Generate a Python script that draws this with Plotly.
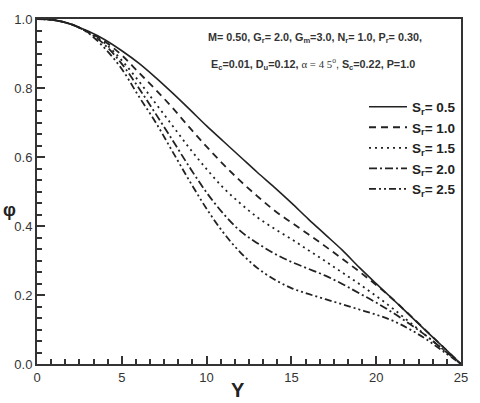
import plotly.graph_objects as go

Y = list(range(0, 26))

phi_sr05 = [1.0, 0.997, 0.985, 0.965, 0.94, 0.908, 0.872, 0.83, 0.785, 0.738, 0.69,
            0.645, 0.6, 0.555, 0.512, 0.467, 0.42, 0.375, 0.33, 0.28, 0.233,
            0.187, 0.14, 0.093, 0.047, 0.0]
phi_sr10 = [1.0, 0.997, 0.985, 0.963, 0.935, 0.895, 0.845, 0.795, 0.742, 0.685, 0.63,
            0.578, 0.53, 0.486, 0.445, 0.41, 0.376, 0.341, 0.305, 0.268, 0.229,
            0.187, 0.141, 0.094, 0.047, 0.0]
phi_sr15 = [1.0, 0.997, 0.985, 0.962, 0.93, 0.88, 0.82, 0.755, 0.69, 0.625, 0.565,
            0.51, 0.465, 0.425, 0.392, 0.362, 0.33, 0.298, 0.265, 0.232, 0.197,
            0.16, 0.12, 0.08, 0.04, 0.0]
phi_sr20 = [1.0, 0.997, 0.985, 0.962, 0.925, 0.87, 0.8, 0.725, 0.648, 0.57, 0.497,
            0.435, 0.385, 0.35, 0.32, 0.296, 0.276, 0.256, 0.232, 0.205, 0.178,
            0.148, 0.115, 0.08, 0.04, 0.0]
phi_sr25 = [1.0, 0.997, 0.985, 0.96, 0.915, 0.855, 0.776, 0.7, 0.615, 0.53, 0.45,
            0.38, 0.323, 0.278, 0.245, 0.22, 0.203, 0.188, 0.173, 0.158, 0.143,
            0.125, 0.1, 0.07, 0.035, 0.0]

series = [
    ("<b>S<sub>r</sub>= 0.5</b>", phi_sr05, "solid"),
    ("<b>S<sub>r</sub>= 1.0</b>", phi_sr10, "7px,5px"),
    ("<b>S<sub>r</sub>= 1.5</b>", phi_sr15, "2px,4px"),
    ("<b>S<sub>r</sub>= 2.0</b>", phi_sr20, "8px,3px,2px,3px"),
    ("<b>S<sub>r</sub>= 2.5</b>", phi_sr25, "7px,3px,2px,3px,2px,3px"),
]

fig = go.Figure()
for name, vals, dash in series:
    fig.add_trace(go.Scatter(
        x=Y, y=vals, mode="lines", name=name, line_shape="spline",
        line=dict(color="#222222", width=1.6 if dash == "solid" else 1.8, dash=dash),
    ))

FONT = "Liberation Sans, Arial, sans-serif"
fig.update_layout(
    width=480, height=403,
    margin=dict(l=37, r=15, t=13, b=39),
    plot_bgcolor="white",
    font=dict(family=FONT, color="#222222"),
    showlegend=True,
    legend=dict(x=1.0, xanchor="right", y=0.79, yanchor="top",
                bgcolor="rgba(0,0,0,0)", font=dict(size=13.5, family=FONT, color="#222222"),
                itemwidth=38, tracegroupgap=0),
    xaxis=dict(range=[0, 25], ticks="inside", ticklen=8, tickwidth=2, tickcolor="#333333",
               showline=True, linecolor="#333333", linewidth=2, mirror=True, showgrid=False, zeroline=False,
               tickfont=dict(size=13, family=FONT, color="#333"),
               minor=dict(ticks="inside", ticklen=5, tickwidth=1.5, tickcolor="#333333", dtick=5/6, tick0=0)),
    yaxis=dict(range=[0, 1], ticks="inside", ticklen=8, tickwidth=2, tickcolor="#333333", tickformat=".1f",
               showline=True, linecolor="#333333", linewidth=2, mirror=True, showgrid=False, zeroline=False,
               tickfont=dict(size=13, family=FONT, color="#333"),
               minor=dict(ticks="inside", ticklen=5, tickwidth=1.5, tickcolor="#333333", dtick=0.2/6, tick0=0)),
)

fig.add_annotation(text="<b>Y</b>", xref="paper", yref="paper", x=0.475, y=-0.074,
                   yanchor="middle", showarrow=False, font=dict(size=20, family=FONT, color="#222"))
fig.add_annotation(text="<b>φ</b>", xref="paper", yref="paper", x=-0.085, y=0.445,
                   xanchor="left", showarrow=False, font=dict(size=18, family=FONT, color="#222"))
fig.add_annotation(text="<b>M= 0.50, G<sub>r</sub>= 2.0, G<sub>m</sub>=3.0, N<sub>r</sub>= 1.0, P<sub>r</sub>= 0.30,</b>",
                   xref="paper", yref="paper", x=0.398, y=0.972, xanchor="left",
                   showarrow=False, font=dict(size=10.8, family=FONT, color="#333"))
fig.add_annotation(text="<b>E<sub>c</sub>=0.01, D<sub>u</sub>=0.12,</b> <span style='font-family:Liberation Serif'>α = 4 5<sup>o</sup></span>, <b>S<sub>c</sub>=0.22, P=1.0</b>",
                   xref="paper", yref="paper", x=0.405, y=0.9, xanchor="left",
                   showarrow=False, font=dict(size=10.8, family=FONT, color="#333"))

fig.write_html("out.html", config={"displayModeBar": False},
               post_script="document.body.style.margin='0';document.body.style.overflow='hidden';")
